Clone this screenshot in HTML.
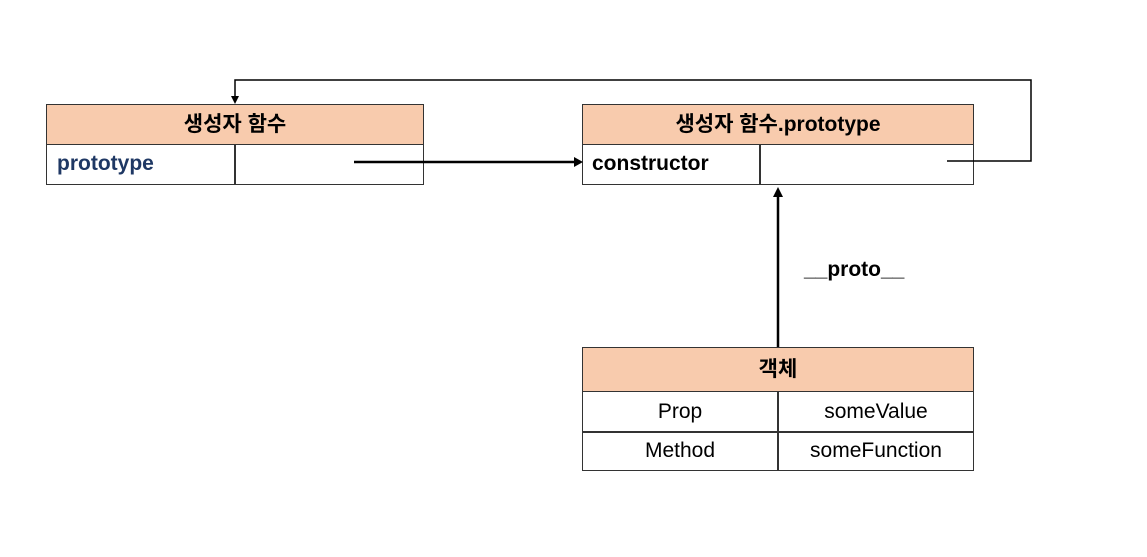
<!DOCTYPE html>
<html><head><meta charset="utf-8"><style>
body{margin:0;width:1147px;height:557px;background:#fff;position:relative;overflow:hidden;font-family:"Liberation Sans","Noto Sans CJK KR",sans-serif}
.b{position:absolute;box-sizing:border-box;border:1.5px solid #333}
.h{background:#f8cbad;font-weight:bold;font-size:21px;text-align:center;color:#000}
.t{position:absolute;font-size:21px;white-space:nowrap}
</style></head><body>
<div class="b h" style="left:46px;top:104px;width:378px;height:41px;line-height:40px">생성자 함수</div>
<div class="b" style="left:46px;top:144px;width:378px;height:41px"></div>
<div style="position:absolute;left:234px;top:144px;width:1.5px;height:41px;background:#333"></div>
<div class="t" style="left:57px;top:152px;font-weight:bold;color:#1f3864">prototype</div>

<div class="b h" style="left:582px;top:104px;width:392px;height:41px;line-height:40px">생성자 함수.prototype</div>
<div class="b" style="left:582px;top:144px;width:392px;height:41px"></div>
<div style="position:absolute;left:759px;top:144px;width:1.5px;height:41px;background:#333"></div>
<div class="t" style="left:592px;top:152px;font-weight:bold">constructor</div>

<div class="b h" style="left:582px;top:347px;width:392px;height:45px;line-height:44px">객체</div>
<div class="b" style="left:582px;top:391px;width:392px;height:80px"></div>
<div style="position:absolute;left:582px;top:431px;width:392px;height:1.5px;background:#333"></div>
<div style="position:absolute;left:777px;top:391px;width:1.5px;height:80px;background:#333"></div>
<div class="t" style="left:582px;width:196px;text-align:center;top:400px">Prop</div>
<div class="t" style="left:778px;width:196px;text-align:center;top:400px">someValue</div>
<div class="t" style="left:582px;width:196px;text-align:center;top:439px">Method</div>
<div class="t" style="left:778px;width:196px;text-align:center;top:439px">someFunction</div>
<div class="t" style="left:804px;top:258px;font-weight:bold">__proto__</div>

<svg width="1147" height="557" style="position:absolute;left:0;top:0">
<polyline points="947,161 1031,161 1031,80 235,80 235,97" fill="none" stroke="#000" stroke-width="1.5"/>
<polygon points="231,96 239,96 235,104" fill="#000"/>
<line x1="354" y1="162" x2="574" y2="162" stroke="#000" stroke-width="2.5"/>
<polygon points="574,157 583,162 574,167" fill="#000"/>
<line x1="778" y1="347" x2="778" y2="196" stroke="#000" stroke-width="2.5"/>
<polygon points="773,197 778,187 783,197" fill="#000"/>
</svg>
</body></html>
